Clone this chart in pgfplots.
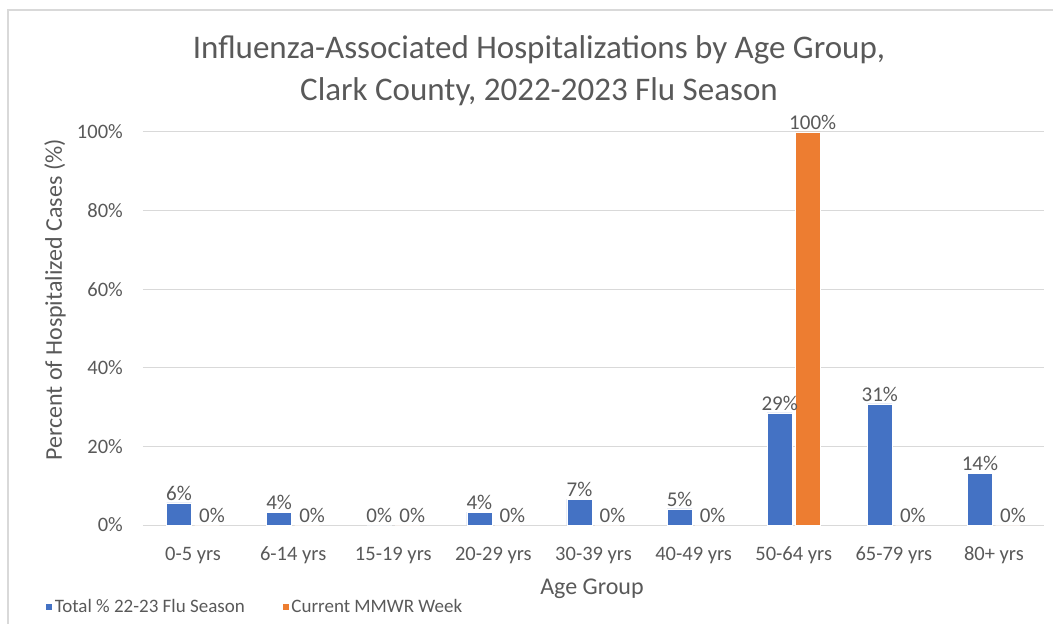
\documentclass[border=0pt]{standalone}
\usepackage{pgfplots}
\pgfplotsset{compat=1.18}
\usepackage{fontspec}
\setmainfont{Carlito}
\definecolor{cblue}{HTML}{4472C4}
\definecolor{corange}{HTML}{ED7D31}
\definecolor{cgrid}{HTML}{D9D9D9}
\definecolor{ctext}{HTML}{595959}
\begin{document}
\begin{tikzpicture}[x=1pt,y=1pt]
\useasboundingbox (-143,-99) rectangle (910,525);
\draw[cgrid, line width=1.2pt] (-135,-99) -- (-135,515) -- (910,515);
\node[text=ctext, font=\fontsize{33}{42}\selectfont, align=center] at (396,454) {Influenza-Associated Hospitalizations by Age Group,\\Clark County, 2022-2023 Flu Season};
\begin{axis}[
  at={(0,0)}, anchor=south west,
  scale only axis, width=901pt, height=393pt,
  /pgf/number format/assume math mode=true,
  ybar=3pt, bar width=25pt,
  xmin=-0.5, xmax=8.5, ymin=0, ymax=100,
  xtick={0,...,8},
  xticklabels={0-5 yrs,6-14 yrs,15-19 yrs,20-29 yrs,30-39 yrs,40-49 yrs,50-64 yrs,65-79 yrs,80+ yrs},
  major x tick style={draw=none},
  extra x ticks={-0.5,0.5,1.5,2.5,3.5,4.5,5.5,6.5,7.5,8.5},
  extra x tick labels={},
  extra x tick style={tick align=outside, major tick length=7pt, major tick style={draw=cgrid, line width=1pt}, grid=none},
  ytick={0,20,40,60,80,100},
  yticklabel={\pgfmathprintnumber{\tick}\%},
  major y tick style={draw=none},
  ymajorgrids, grid style={cgrid, line width=1pt},
  axis x line*=bottom, axis y line*=left,
  x axis line style={-, draw=cgrid, line width=1pt},
  y axis line style={draw=none},
  tick label style={text=ctext, font=\fontsize{20.5}{24}\selectfont},
  xticklabel style={inner sep=0pt, anchor=center, yshift=-26pt},
  yticklabel style={inner sep=0pt, anchor=east, xshift=-20pt},
  xlabel={Age Group},
  ylabel={Percent of Hospitalized Cases (\%)},
  label style={text=ctext, font=\fontsize{24}{28}\selectfont},
  xlabel style={at={(axis description cs:0.4983,0)}, anchor=center, yshift=-64pt},
  ylabel style={at={(axis description cs:0,0.5725)}, anchor=center, rotate=0, yshift=88pt},
  nodes near coords={\pgfmathprintnumber{\pgfplotspointmeta}\%},
  point meta=explicit,
  nodes near coords style={text=ctext, font=\fontsize{21}{24}\selectfont, inner sep=2pt, anchor=south},
  legend columns=2,
  legend style={at={(axis description cs:-0.1088,-0.2087)}, anchor=west, draw=none, fill=none, inner sep=0pt,
    font=\fontsize{19}{22}\selectfont, text=ctext, column sep=0pt,
    /tikz/every even column/.append style={column sep=35pt}},
  legend image code/.code={\fill[#1] (0pt,-3.5pt) rectangle (7pt,3.5pt);},
]
\addplot[fill=cblue, draw=white, line width=0.6pt] coordinates {
 (0,5.6) [6] (1,3.3) [4] (2,0) [0] (3,3.3) [4] (4,6.6) [7] (5,4.1) [5] (6,28.5) [29] (7,30.8) [31] (8,13.2) [14]};
\addplot[fill=corange, draw=white, line width=0.6pt,
  every node near coord/.append style={xshift=5pt}] coordinates {
 (0,0) [0] (1,0) [0] (2,0) [0] (3,0) [0] (4,0) [0] (5,0) [0] (6,100) [100] (7,0) [0] (8,0) [0]};
\legend{Total \% 22-23 Flu Season, Current MMWR Week}
\end{axis}
\end{tikzpicture}
\end{document}
